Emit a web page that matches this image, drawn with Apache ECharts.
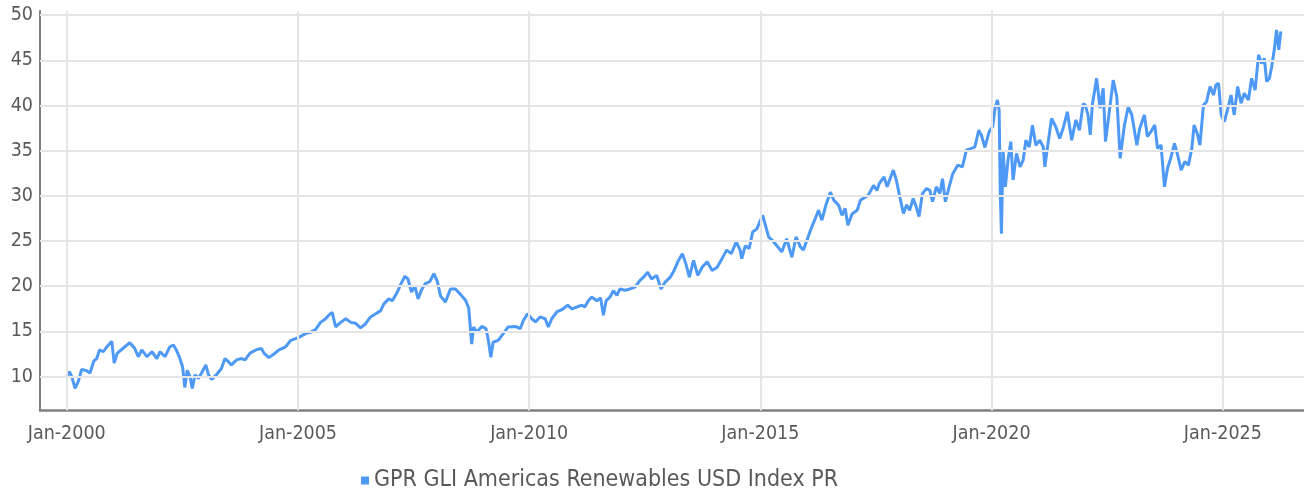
<!DOCTYPE html>
<html>
<head>
<meta charset="utf-8">
<script src="https://cdn.jsdelivr.net/npm/echarts@6/dist/echarts.min.js"></script>
<style>
html,body{margin:0;padding:0;background:#fff;}
#chart{width:1304px;height:492px;}
</style>
</head>
<body>
<div id="chart"></div>
<script>
const seriesName = 'GPR GLI Americas Renewables USD Index PR';
const yTicks = [10, 15, 20, 25, 30, 35, 40, 45, 50];
const xTickYears = [2000, 2005, 2010, 2015, 2020, 2025];

const dates = [
'2000-01-01','2000-01-22','2000-02-10','2000-03-07','2000-04-01','2000-04-28','2000-06-07','2000-07-03','2000-08-01','2000-08-25','2000-09-16','2000-10-16','2000-11-13','2000-12-22',
'2001-01-10','2001-02-04','2001-03-10','2001-04-04','2001-05-13','2001-06-22','2001-07-19','2001-08-16','2001-09-25','2001-11-04','2001-12-13',
'2002-01-07','2002-02-16','2002-03-25','2002-04-22','2002-05-16','2002-06-13','2002-07-04','2002-07-22','2002-08-10','2002-09-01','2002-09-19','2002-10-10','2002-11-07','2002-12-01',
'2003-01-04','2003-01-25','2003-02-19','2003-03-28','2003-05-07','2003-06-04','2003-07-01','2003-07-25','2003-09-04','2003-10-13','2003-11-10','2003-12-19',
'2004-02-10','2004-03-19','2004-04-07','2004-05-16','2004-06-25','2004-08-04','2004-09-25','2004-11-04','2004-12-13',
'2005-01-22','2005-03-01','2005-04-10','2005-05-19','2005-06-28','2005-08-07','2005-09-01','2005-09-28','2005-10-25','2005-12-04',
'2006-01-13','2006-02-22','2006-04-01','2006-05-10','2006-06-19','2006-07-28','2006-09-07','2006-10-16','2006-11-10','2006-12-19',
'2007-01-16','2007-02-25','2007-03-19','2007-04-25','2007-05-19','2007-06-16','2007-07-13','2007-08-07','2007-09-04','2007-10-04','2007-11-07','2007-12-10',
'2008-01-07','2008-02-01','2008-03-10','2008-04-19','2008-05-28','2008-07-01','2008-08-16','2008-09-10','2008-10-04','2008-10-19','2008-11-13','2008-12-22',
'2009-01-25','2009-02-13','2009-03-04','2009-03-22','2009-05-01','2009-06-10','2009-07-19','2009-09-13','2009-10-22','2009-11-16','2009-12-19',
'2010-01-22','2010-02-19','2010-03-28','2010-05-07','2010-06-01','2010-06-28','2010-08-07','2010-09-16','2010-11-01','2010-12-04',
'2011-01-13','2011-02-22','2011-03-16','2011-04-13','2011-05-10','2011-06-19','2011-07-19','2011-08-10','2011-09-01','2011-10-01','2011-10-28','2011-11-25','2011-12-19',
'2012-01-28','2012-03-07','2012-04-16','2012-05-25','2012-06-22','2012-07-25','2012-08-25','2012-10-04','2012-11-07','2012-12-10',
'2013-01-19','2013-02-19','2013-03-25','2013-04-25','2013-05-22','2013-06-19','2013-07-22','2013-08-25','2013-09-28','2013-11-07','2013-12-16',
'2014-01-25','2014-03-04','2014-04-10','2014-05-16','2014-06-25','2014-07-25','2014-08-07','2014-09-04','2014-10-04','2014-11-01','2014-12-04',
'2015-01-19','2015-02-10','2015-03-07','2015-04-07','2015-05-10','2015-06-19','2015-07-28','2015-09-07','2015-10-10','2015-11-13','2015-12-07',
'2016-01-04','2016-02-01','2016-03-10','2016-04-04','2016-05-01','2016-06-01','2016-07-07','2016-08-04','2016-09-10','2016-10-07','2016-11-01','2016-11-22','2016-12-25',
'2017-02-04','2017-03-01','2017-04-07','2017-05-01','2017-06-13','2017-07-10','2017-07-28','2017-09-04','2017-09-28','2017-11-16','2017-12-10',
'2018-01-01','2018-02-04','2018-03-01','2018-03-25','2018-04-22','2018-05-16','2018-06-07','2018-07-04','2018-08-04','2018-09-01','2018-09-22','2018-10-22','2018-11-19','2018-12-10',
'2019-01-01','2019-02-07','2019-03-01','2019-04-10','2019-05-16','2019-06-16','2019-07-25','2019-08-22','2019-09-22','2019-10-13','2019-11-10','2019-12-13',
'2020-01-10','2020-01-28','2020-02-16','2020-03-01','2020-03-10','2020-03-19','2020-04-01','2020-04-19','2020-05-10','2020-06-01','2020-06-19','2020-07-16','2020-08-13','2020-09-07','2020-09-28','2020-10-25','2020-11-19','2020-12-16',
'2021-01-16','2021-02-13','2021-02-25','2021-03-22','2021-04-19','2021-05-22','2021-06-22','2021-07-19','2021-08-22','2021-09-25','2021-10-28','2021-11-25','2021-12-25',
'2022-01-10','2022-02-01','2022-02-19','2022-03-07','2022-04-10','2022-05-07','2022-06-01','2022-06-19','2022-07-16','2022-08-19','2022-09-16','2022-10-13','2022-11-16','2022-12-16',
'2023-01-13','2023-02-22','2023-03-16','2023-04-22','2023-05-16','2023-06-13','2023-07-13','2023-08-04','2023-09-01','2023-09-28','2023-10-22','2023-11-16','2023-12-16',
'2024-01-10','2024-02-07','2024-03-07','2024-04-04','2024-05-01','2024-05-19','2024-06-16','2024-07-04','2024-08-01','2024-08-25','2024-09-22','2024-10-19','2024-11-07','2024-11-28','2024-12-19',
'2025-01-13','2025-02-10','2025-03-07','2025-04-01','2025-04-28','2025-05-25','2025-06-19','2025-07-22','2025-08-16','2025-09-13','2025-10-10','2025-11-04','2025-11-25','2025-12-13',
'2026-01-04','2026-01-22','2026-02-13','2026-03-01','2026-03-19','2026-04-04'
];

const values = [
10.0,10.55,10.0,8.7,9.45,10.8,10.65,10.4,11.7,12.0,12.95,12.75,13.3,13.9,
11.5,12.6,13.0,13.3,13.75,13.1,12.2,12.95,12.2,12.75,12.0,
12.75,12.2,13.3,13.5,12.95,12.0,11.1,8.8,10.7,10.0,8.7,10.2,9.8,10.4,
11.3,10.2,9.7,10.2,10.9,12.0,11.65,11.3,11.85,12.0,11.85,12.6,
13.0,13.1,12.6,12.1,12.5,12.95,13.3,14.0,14.2,
14.45,14.75,14.9,15.2,16.0,16.4,16.8,17.1,15.5,16.0,
16.4,16.0,15.9,15.4,15.85,16.6,16.95,17.3,18.05,18.6,
18.4,19.35,20.1,21.1,20.8,19.35,20.0,18.6,19.6,20.3,20.5,21.4,
20.5,18.9,18.25,19.7,19.7,19.2,18.45,17.6,13.6,15.5,14.9,15.55,
15.3,14.0,12.15,13.8,14.0,14.75,15.5,15.55,15.3,16.2,16.95,
16.4,16.05,16.6,16.4,15.5,16.4,17.15,17.4,17.9,17.5,
17.7,17.9,17.7,18.4,18.8,18.4,18.7,16.8,18.4,18.8,19.5,19.0,19.7,
19.55,19.7,19.9,20.65,21.0,21.55,20.8,21.2,19.7,20.45,
21.0,21.75,22.85,23.6,22.5,21.0,22.85,21.2,22.1,22.7,21.75,
22.1,23.05,24.0,23.6,24.9,24.0,23.05,24.5,24.15,26.0,26.35,
27.85,26.75,25.45,25.05,24.5,23.8,25.25,23.2,25.45,24.35,24.0,
25.1,26.2,27.5,28.4,27.3,28.95,30.4,29.5,28.95,27.85,28.6,26.75,28.0,
28.4,29.5,29.85,30.05,31.15,30.6,31.35,32.1,31.0,32.85,31.75,
30.25,28.05,29.0,28.4,29.7,28.8,27.7,30.25,30.8,30.6,29.35,31.0,30.25,31.9,
29.35,31.35,32.45,33.4,33.2,35.05,35.25,35.4,37.25,36.7,35.35,37.1,
37.65,39.65,40.6,39.5,30.25,25.8,35.05,31.0,33.95,36.0,31.75,34.7,33.2,33.95,36.15,35.4,37.8,35.6,
36.15,35.4,33.2,35.8,38.55,37.65,36.35,37.45,39.3,36.15,38.4,37.25,40.2,
40.05,38.95,36.75,40.05,43.0,39.7,41.9,36.0,38.95,42.8,41.0,34.15,37.85,39.85,
38.95,35.6,37.45,38.95,36.55,37.1,37.85,35.25,35.6,31.0,33.05,34.15,35.8,
34.5,32.85,33.8,33.4,35.25,37.85,36.75,35.6,40.05,40.4,42.1,41.15,42.25,42.45,38.95,
38.2,39.7,41.15,38.95,42.1,40.25,41.35,40.6,43.0,41.7,45.6,44.65,45.2,42.65,
43.0,44.3,46.35,48.35,46.15,48.2
];

const FONT = "'Liberation Sans Narrow', 'DejaVu Sans Condensed', 'Roboto', sans-serif";
const TEXT = '#595959';
const GRID = '#e5e5e5';
const AXIS = '#7f7f7f';
const LINE = '#4d99f5';

function toTime(s) {
  const p = s.split('-').map(Number);
  return new Date(p[0], p[1] - 1, p[2]).getTime();
}
const xTickTimes = xTickYears.map(y => new Date(y, 0, 1).getTime());
const seriesData = dates.map((d, i) => [toTime(d), values[i]]);

const chart = echarts.init(document.getElementById('chart'), null, {renderer: 'canvas'});
chart.setOption({
  animation: false,
  backgroundColor: '#ffffff',
  grid: {left: 40, right: 0, top: 11, bottom: 81.5, containLabel: false},
  legend: {
    data: [seriesName],
    top: 469,
    left: 361,
    padding: 0,
    icon: 'rect',
    itemWidth: 8,
    itemHeight: 8,
    textStyle: {color: TEXT, fontSize: 23, fontFamily: FONT}
  },
  xAxis: {
    type: 'value',
    min: new Date(1999, 5, 4).getTime(),
    max: new Date(2026, 9, 4).getTime(),
    axisLine: {show: true, lineStyle: {color: AXIS, width: 2.5}},
    axisTick: {show: false},
    splitLine: {show: false},
    axisLabel: {
      customValues: xTickTimes,
      formatter: v => 'Jan-' + new Date(v).getFullYear(),
      color: TEXT, fontSize: 19.5, fontFamily: FONT, margin: 13
    }
  },
  yAxis: {
    type: 'value',
    min: 6.25,
    max: 50.45,
    axisLine: {show: true, lineStyle: {color: AXIS, width: 2}},
    axisTick: {show: false},
    splitLine: {show: false},
    axisLabel: {
      customValues: yTicks,
      color: TEXT, fontSize: 19.5, fontFamily: FONT, margin: 7
    }
  },
  series: [
    {
      type: 'line',
      name: '__grid',
      data: [],
      z: 1,
      silent: true,
      markLine: {
        silent: true,
        symbol: 'none',
        label: {show: false},
        animation: false,
        lineStyle: {color: GRID, width: 2, type: 'solid'},
        data: yTicks.map(v => ({yAxis: v})).concat(xTickTimes.map(t => ({xAxis: t})))
      }
    },
    {
      type: 'line',
      name: seriesName,
      data: seriesData,
      z: 3,
      showSymbol: false,
      symbol: 'none',
      lineStyle: {color: LINE, width: 3},
      itemStyle: {color: LINE}
    }
  ]
});
</script>
</body>
</html>
